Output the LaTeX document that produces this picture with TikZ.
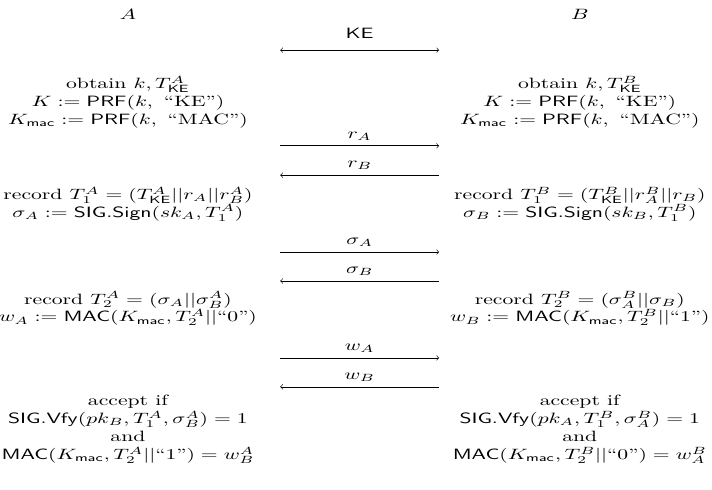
\documentclass[tikz,border=0pt]{standalone}
\usepackage{amsmath}
\usetikzlibrary{positioning}
\tikzset{
  party/.style={align=center},
  msg/.style={above}
}
\begin{document}
\begin{tikzpicture}[xscale=1.45, every node/.append style={transform shape}]
\useasboundingbox (0,0) rectangle (11.552,-11.52);
% parties
\node (A) at (2.076,-0.33) {$A$};
\node (B) at (9.407,-0.33) {$B$};
% arrow ends
\coordinate (kel) at (4.545,-1.18);
\coordinate (ker) at (7.124,-1.18);
\coordinate (r1l) at (4.545,-3.43);
\coordinate (r1r) at (7.124,-3.43);
\coordinate (r2l) at (4.545,-4.12);
\coordinate (r2r) at (7.124,-4.12);
\coordinate (s1l) at (4.545,-5.93);
\coordinate (s1r) at (7.124,-5.93);
\coordinate (s2l) at (4.545,-6.61);
\coordinate (s2r) at (7.124,-6.61);
\coordinate (w1l) at (4.545,-8.42);
\coordinate (w1r) at (7.124,-8.42);
\coordinate (w2l) at (4.545,-9.10);
\coordinate (w2r) at (7.124,-9.10);
% messages
\draw[<->] (kel) -- node[msg, yshift=4pt] (ke) {$\mathsf{KE}$} (ker);
\draw[->] (r1l) -- node[msg] (rA) {$r_A$} (r1r);
\draw[<-] (r2l) -- node[msg] (rB) {$r_B$} (r2r);
\draw[->] (s1l) -- node[msg] (sA) {$\sigma_A$} (s1r);
\draw[<-] (s2l) -- node[msg] (sB) {$\sigma_B$} (s2r);
\draw[->] (w1l) -- node[msg] (wA) {$w_A$} (w1r);
\draw[<-] (w2l) -- node[msg] (wB) {$w_B$} (w2r);
% A side
\node[party] (keyA) at (2.076,-2.40) {obtain $k, T^A_{\mathsf{KE}}$\\
  $K := \mathsf{PRF}(k,\ \text{``KE''})$\\
  $K_{\mathsf{mac}} := \mathsf{PRF}(k,\ \text{``MAC''})$};
\node[party] (sigA) at (2.076,-4.80) {record $T^A_1 = (T^A_{\mathsf{KE}}||r_A||r^A_B)$\\
  $\sigma_A := \mathsf{SIG.Sign}(sk_A, T^A_1)$};
\node[party] (macA) at (2.076,-7.26) {record $T^A_2 = (\sigma_A||\sigma^A_B)$\\
  $w_A := \mathsf{MAC}(K_{\mathsf{mac}}, T^A_2||\text{``0''})$};
\node[party] (accA) at (2.076,-10.10) {accept if\\
  $\mathsf{SIG.Vfy}(pk_B, T^A_1, \sigma^A_B) = 1$\\
  and\\
  $\mathsf{MAC}(K_{\mathsf{mac}}, T^A_2||\text{``1''}) = w^A_B$};
% B side
\node[party] (keyB) at (9.407,-2.40) {obtain $k, T^B_{\mathsf{KE}}$\\
  $K := \mathsf{PRF}(k,\ \text{``KE''})$\\
  $K_{\mathsf{mac}} := \mathsf{PRF}(k,\ \text{``MAC''})$};
\node[party] (sigB) at (9.407,-4.80) {record $T^B_1 = (T^B_{\mathsf{KE}}||r^B_A||r_B)$\\
  $\sigma_B := \mathsf{SIG.Sign}(sk_B, T^B_1)$};
\node[party] (macB) at (9.407,-7.26) {record $T^B_2 = (\sigma^B_A||\sigma_B)$\\
  $w_B := \mathsf{MAC}(K_{\mathsf{mac}}, T^B_2||\text{``1''})$};
\node[party] (accB) at (9.407,-10.10) {accept if\\
  $\mathsf{SIG.Vfy}(pk_A, T^B_1, \sigma^B_A) = 1$\\
  and\\
  $\mathsf{MAC}(K_{\mathsf{mac}}, T^B_2||\text{``0''}) = w^B_A$};
\end{tikzpicture}
\end{document}
